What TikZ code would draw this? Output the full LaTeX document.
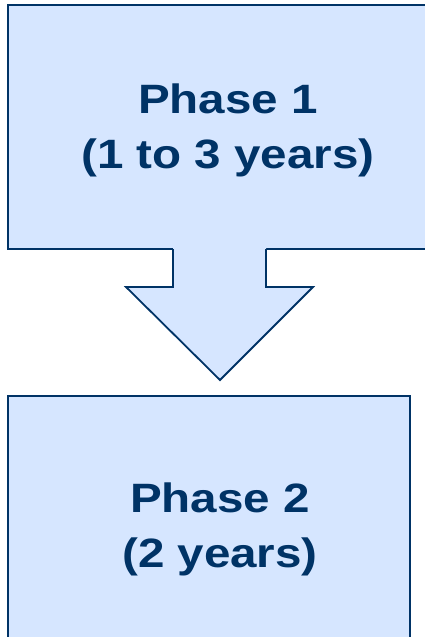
\documentclass[tikz,border=0pt]{standalone}
\usepackage{fontspec}
\usepackage{xcolor}
\usepackage{tikz}
\newfontfamily\phasefont[FakeStretch=1.16]{Liberation Sans}
\definecolor{phaseblue}{RGB}{0,51,102}
\definecolor{phasefill}{RGB}{214,230,255}
\tikzstyle{phasebox} = [draw=phaseblue, fill=phasefill, line width=1.8pt,
rectangle, inner sep=0pt]
\tikzstyle{phasetext} =[text=phaseblue, align=center, inner sep=0pt,
font=\phasefont\bfseries\fontsize{41}{55}\selectfont]

\begin{document}
\begin{tikzpicture}[x=1pt, y=-1pt]
        \useasboundingbox (0,0) rectangle (425,637);
        \node [phasebox, minimum width=442pt, minimum height=244pt] (box1) at (229,127) {};
        \node [phasebox, minimum width=402pt, minimum height=244pt] (box2) at (209,518) {};
        % arrow between the phases
        \fill [phasefill] (173,246) -- (173,287) -- (126,287) -- (220,380)
            -- (313,287) -- (266,287) -- (266,246) -- cycle;
        \draw [draw=phaseblue, line width=1.8pt, line join=miter]
            (173,249) -- (173,287) -- (126,287) -- (220,380)
            -- (313,287) -- (266,287) -- (266,249);
        \node [phasetext] (phase1) at (228,130) {Phase 1\\(1 to 3 years)};
        \node [phasetext] (phase2) at (220,529) {Phase 2\\(2 years)};
    \end{tikzpicture}
\end{document}
